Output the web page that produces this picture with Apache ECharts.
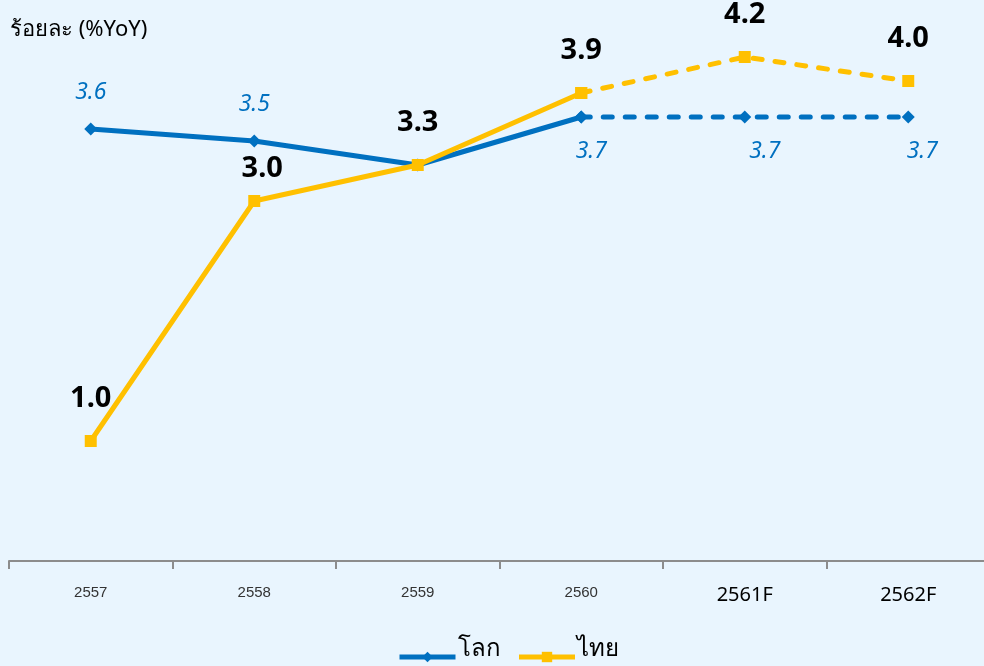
<!DOCTYPE html>
<html>
<head>
<meta charset="utf-8">
<script src="https://cdn.jsdelivr.net/npm/echarts@6/dist/echarts.min.js"></script>
<style>
	html, body { margin: 0; padding: 0; background: #E9F5FE; overflow: hidden; }
	#chart { width: 990px; height: 666px; }
</style>
</head>
<body>
<div id="chart"></div>
<script>
// ข้อมูลกราฟ
const years = ['2557', '2558', '2559', '2560', '2561F', '2562F'];
const world = [3.6, 3.5, 3.3, 3.7, 3.7, 3.7];
const thai = [1.0, 3.0, 3.3, 3.9, 4.2, 4.0];
const forecastFrom = 3; // เส้นประเริ่มจาก 2560

const blue = '#0070C0';
const yellow = '#FFC000';

// แยกช่วงจริง / ช่วงคาดการณ์
const solidPart = (arr) => arr.map((v, i) => (i <= forecastFrom ? v : '-'));
const dashPart = (arr) => arr.map((v, i) => (i >= forecastFrom ? v : '-'));

const chart = echarts.init(document.getElementById('chart'));

const worldLabel = {
	show: true,
	color: blue,
	fontStyle: 'italic',
	fontSize: 23,
	fontFamily: 'Noto Sans',
	formatter: (p) => {
		if (p.dataIndex === 2) return ''; // ทับกับไทย
		return p.value.toFixed(1);
	}
};
const thaiLabel = {
	show: true,
	position: 'top',
	distance: 22,
	color: '#000',
	fontWeight: 'bold',
	fontSize: 29,
	fontFamily: 'Noto Sans',
	formatter: (p) => p.value.toFixed(1)
};

// ตำแหน่งป้ายเส้นโลก: สองปีแรกอยู่บน ที่เหลืออยู่ล่างเยื้องขวา
const worldShift = [0, 0, 0, 10, 20, 14];
const worldLabelAt = (i) => (i <= 1
	? { position: 'top', distance: 19 }
	: { position: 'bottom', distance: 16, offset: [worldShift[i], 0] });
const thaiLabelAt = (i) => (i === 1 ? { offset: [8, 10] } : {});

const option = {
	backgroundColor: '#E9F5FE',
	animation: false,
	title: {
		text: 'ร้อยละ (%YoY)',
		left: 5,
		top: 14,
		textStyle: { fontSize: 22, fontWeight: 'normal', color: '#000', fontFamily: 'Noto Sans' }
	},
	legend: {
		top: 632,
		left: 392,
		itemWidth: 56,
		itemHeight: 13,
		itemGap: 16,
		data: ['โลก', 'ไทย'],
		lineStyle: { width: 5 },
		formatter: (name) => '{t|' + name + '}',
		textStyle: {
			rich: {
				t: { fontSize: 24, color: '#000', fontFamily: 'Noto Sans', lineHeight: 40, verticalAlign: 'top', padding: [0, 0, 0, -3] }
			}
		}
	},
	grid: { left: 9, right: 0, top: 21, bottom: 105 },
	xAxis: {
		type: 'category',
		data: years,
		axisLine: { lineStyle: { color: '#8c8c8c', width: 2 } },
		axisTick: { show: true, length: 8, lineStyle: { color: '#8c8c8c', width: 2 } },
		axisLabel: {
			margin: 24,
			formatter: (v) => (v.endsWith('F') ? '{f|' + v + '}' : '{n|' + v + '}'),
			rich: {
				n: { fontSize: 15, color: '#333', fontFamily: 'Liberation Sans' },
				f: { fontSize: 20, color: '#000', fontFamily: 'Noto Sans' }
			}
		}
	},
	yAxis: {
		type: 'value',
		min: 0,
		max: 4.5,
		show: false,
		splitLine: { show: false }
	},
	series: [
		{
			name: 'โลก',
			type: 'line',
			data: solidPart(world).map((v, i) => (v === '-' ? v : { value: v, label: worldLabelAt(i) })),
			symbol: 'diamond',
			symbolSize: 13,
			lineStyle: { color: blue, width: 5 },
			itemStyle: { color: blue },
			label: worldLabel,
			z: 3
		},
		{
			name: 'โลก',
			type: 'line',
			data: dashPart(world).map((v, i) => {
				if (v === '-') return v;
				if (i === forecastFrom) return { value: v, label: { show: false } };
				return { value: v, label: worldLabelAt(i) };
			}),
			symbol: 'diamond',
			symbolSize: 13,
			lineStyle: { color: blue, width: 5, type: [9, 13], cap: 'round' },
			itemStyle: { color: blue },
			label: worldLabel,
			z: 3
		},
		{
			name: 'ไทย',
			type: 'line',
			data: solidPart(thai).map((v, i) => (v === '-' ? v : { value: v, label: thaiLabelAt(i) })),
			symbol: 'rect',
			symbolSize: 12,
			lineStyle: { color: yellow, width: 5 },
			itemStyle: { color: yellow },
			label: thaiLabel,
			z: 4
		},
		{
			name: 'ไทย',
			type: 'line',
			data: dashPart(thai).map((v, i) => (i === forecastFrom ? { value: v, label: { show: false } } : v)),
			symbol: 'rect',
			symbolSize: 12,
			lineStyle: { color: yellow, width: 5, type: [9, 13], cap: 'round' },
			itemStyle: { color: yellow },
			label: thaiLabel,
			z: 4
		}
	]
};

chart.setOption(option);
</script>
</body>
</html>
